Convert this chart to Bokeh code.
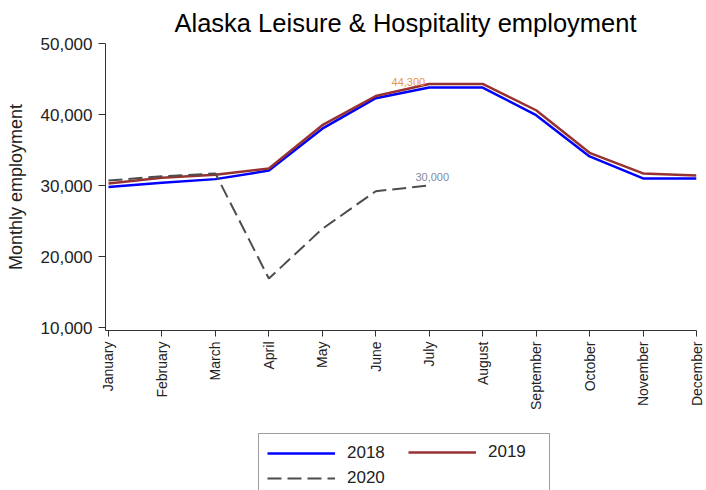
import math
from bokeh.plotting import figure
from bokeh.layouts import column
from bokeh.models import (Legend, LegendItem, Range1d, FixedTicker,
                          NumeralTickFormatter, Label)
from bokeh.embed import file_html
from bokeh.resources import INLINE

months = ["January", "February", "March", "April", "May", "June", "July",
          "August", "September", "October", "November", "December"]
y2018 = [29800, 30400, 30900, 32100, 38000, 42300, 43800, 43800, 39900, 34100, 31000, 31000]
y2019 = [30300, 31100, 31500, 32400, 38500, 42600, 44300, 44300, 40600, 34600, 31700, 31400]
y2020 = [30700, 31300, 31700, 16900, 23900, 29200, 30000]
y_ticks = [10000, 20000, 30000, 40000, 50000]
series_names = ["2018", "2019", "2020"]

x_all = list(range(len(months)))
x_2020 = x_all[:len(y2020)]

FONT = "Liberation Sans"
C18, C19, C20 = "#0000FF", "#983232", "#4D4D4D"
DASH = "14 6"

p = figure(width=706, height=425, output_backend="svg", toolbar_location=None,
           x_range=Range1d(-0.056, 11), y_range=Range1d(9582, 50000),
           min_border_left=105, min_border_right=10, min_border_top=40,
           min_border_bottom=95)
p.outline_line_color = None
p.xgrid.visible = False
p.ygrid.visible = False

p.title.text = "Alaska Leisure & Hospitality employment"
p.title.text_font = FONT
p.title.text_font_size = "25.5px"
p.title.text_font_style = "normal"
p.title.text_color = "#000000"
p.title.align = "left"
p.title.offset = 69
p.title.standoff = 13

xa = p.xaxis[0]
xa.ticker = FixedTicker(ticks=x_all)
xa.major_label_overrides = {i: m for i, m in enumerate(months)}
xa.major_label_orientation = math.pi / 2
xa.major_label_text_font = FONT
xa.major_label_text_font_size = "14px"
xa.major_label_text_color = "#222222"
xa.major_label_standoff = 5
xa.minor_tick_line_color = None
xa.major_tick_out = 6
xa.major_tick_in = 0
xa.axis_line_color = "#333333"
xa.major_tick_line_color = "#333333"

ya = p.yaxis[0]
ya.ticker = FixedTicker(ticks=y_ticks)
ya.formatter = NumeralTickFormatter(format="0,0")
ya.major_label_text_font = FONT
ya.major_label_text_font_size = "17px"
ya.major_label_text_color = "#222222"
ya.major_label_standoff = 6
ya.minor_tick_line_color = None
ya.major_tick_out = 7
ya.major_tick_in = 0
ya.axis_line_color = "#333333"
ya.major_tick_line_color = "#333333"
ya.axis_label = "Monthly employment"
ya.axis_label_text_font = FONT
ya.axis_label_text_font_size = "18px"
ya.axis_label_text_font_style = "normal"
ya.axis_label_text_color = "#222222"
ya.axis_label_standoff = 12

p.line(x_all, y2018, line_color=C18, line_width=2.5)
p.line(x_all, y2019, line_color=C19, line_width=2.5)
p.line(x_2020, y2020, line_color=C20, line_width=2, line_dash=DASH)

p.add_layout(Label(x=x_all[6], y=y2019[6], text=f"{y2019[6]:,}", text_font=FONT,
                   text_font_size="11px", text_color="#E8944A", text_align="right",
                   text_baseline="middle", x_offset=-4, y_offset=2))
p.add_layout(Label(x=x_2020[-1], y=y2020[-1], text=f"{y2020[-1]:,}", text_font=FONT,
                   text_font_size="11px", text_color="#7F8CA0", text_align="center",
                   text_baseline="bottom", x_offset=3, y_offset=5))

# legend strip below the chart (series drawn out of its visible range)
lg = figure(width=706, height=65, output_backend="svg", toolbar_location=None,
            x_range=Range1d(-2, -1), y_range=Range1d(-2, -1),
            x_axis_location=None, y_axis_location=None, min_border=0)
lg.outline_line_color = None
lg.xgrid.visible = False
lg.ygrid.visible = False
d18 = lg.line(x_all, y2018, line_color=C18, line_width=2.5)
d19 = lg.line(x_all, y2019, line_color=C19, line_width=2.5)
d20 = lg.line(x_2020, y2020, line_color=C20, line_width=2, line_dash=DASH)

common = dict(padding=8, margin=0, spacing=3, glyph_width=68, glyph_height=22,
              label_height=22, label_standoff=12, label_text_font=FONT,
              label_text_font_size="17px", label_text_color="#222222",
              orientation="vertical")
legA = Legend(items=[LegendItem(label=series_names[0], renderers=[d18]),
                     LegendItem(label=series_names[2], renderers=[d20])],
              location=(153, -8), label_width=194,
              border_line_color="#404040", border_line_width=1,
              background_fill_color="white", background_fill_alpha=1.0, **common)
legB = Legend(items=[LegendItem(label=series_names[1], renderers=[d19])],
              location=(303, 27), border_line_color=None,
              background_fill_alpha=0.0, **common)
lg.add_layout(legA)
lg.add_layout(legB)

layout = column(p, lg, spacing=0)
open("out.html", "w").write(file_html(layout, INLINE))
